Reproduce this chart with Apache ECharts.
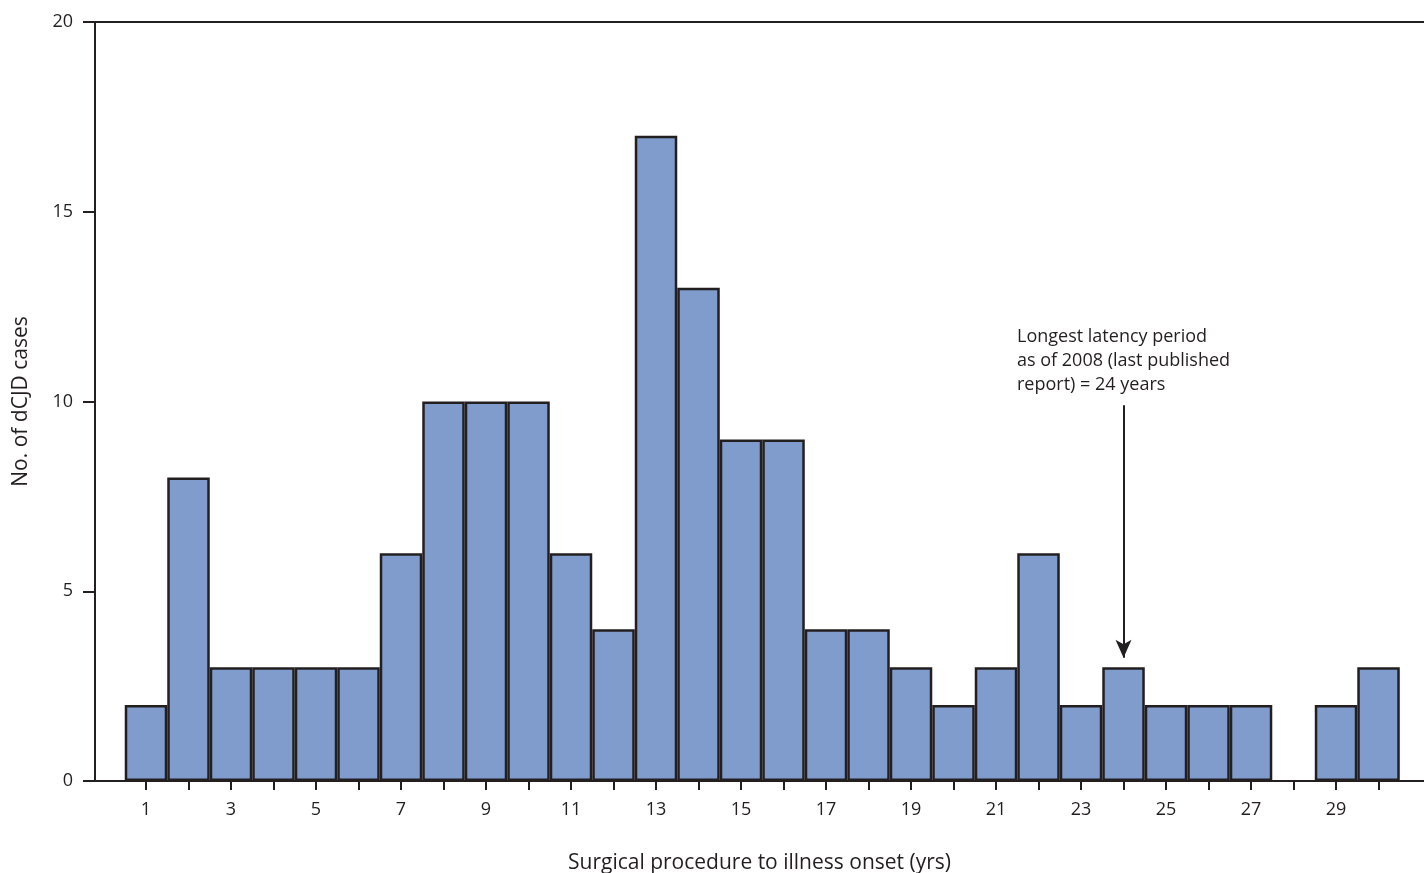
<!DOCTYPE html><html><head><meta charset="utf-8"><script src="https://cdn.jsdelivr.net/npm/echarts@6/dist/echarts.min.js"></script></head><body style="margin:0"><div id="c" style="width:1424px;height:873px"></div><script>
const years=[1,2,3,4,5,6,7,8,9,10,11,12,13,14,15,16,17,18,19,20,21,22,23,24,25,26,27,28,29,30];
const cases=[2,8,3,3,3,3,6,10,10,10,6,4,17,13,9,9,4,4,3,2,3,6,2,3,2,2,2,0,2,3];
const tickLabels=[1,3,5,7,9,11,13,15,17,19,21,23,25,27,29];
const ch=echarts.init(document.getElementById('c'));
const F='"Open Sans", sans-serif', dark='#231f20';
ch.setOption({
 grid:{left:95,right:0,top:22,bottom:92,outerBoundsMode:'none',containLabel:false},
 xAxis:[{type:'value',min:-0.2,max:31.07,
  name:'Surgical procedure to illness onset (yrs)',nameLocation:'middle',nameGap:72,
  nameTextStyle:{fontFamily:F,fontSize:21,color:dark},
  axisLine:{lineStyle:{color:dark,width:2}},splitLine:{show:false},
  axisTick:{customValues:years,length:9,lineStyle:{color:dark,width:2}},
  axisLabel:{customValues:tickLabels,fontFamily:F,fontSize:18,color:dark,margin:20}},
  {type:'value',position:'top',min:-0.2,max:31.07,axisLine:{show:true,lineStyle:{color:dark,width:2}},axisTick:{show:false},axisLabel:{show:false},splitLine:{show:false}}],
 yAxis:{type:'value',min:0,max:20,interval:5,
  name:'No. of dCJD cases',nameLocation:'middle',nameGap:63,
  nameTextStyle:{fontFamily:F,fontSize:21,color:dark},
  axisLine:{show:true,onZero:false,lineStyle:{color:dark,width:2}},splitLine:{show:false},
  axisTick:{show:true,length:12,lineStyle:{color:dark,width:2}},
  axisLabel:{fontFamily:F,fontSize:18,color:dark,margin:22}},
 series:[{type:'bar',barWidth:42.5,data:years.map((y,i)=>[y,cases[i]===0?null:cases[i]]),
  itemStyle:{color:'#7f9ccd',borderColor:dark,borderWidth:2.5},
  markLine:{silent:true,symbol:['none','arrow'],symbolSize:[12,18],label:{show:false},
   lineStyle:{color:dark,width:2,type:'solid'},
   data:[[{coord:[24,9.9]},{coord:[24,3.25]}]]}}],
 graphic:[{type:'text',left:1017,top:325,style:{text:'Longest latency period\nas of 2008 (last published\nreport) = 24 years',font:'18px '+F,fill:dark,lineHeight:24}}]
});
</script></body></html>
